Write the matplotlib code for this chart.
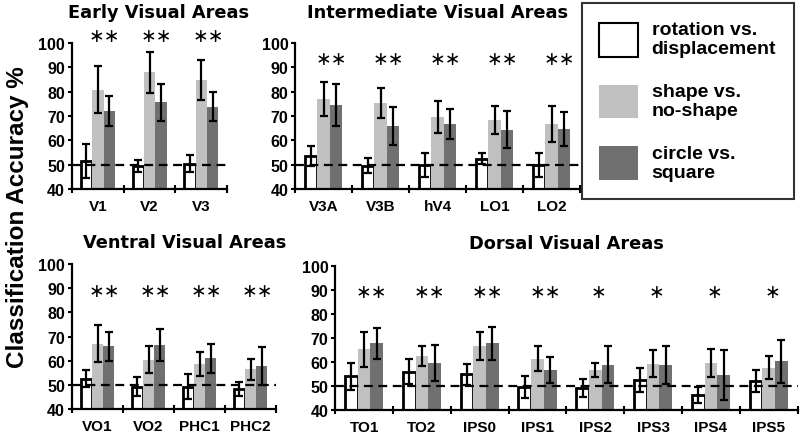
import matplotlib
matplotlib.use("Agg")
import matplotlib.pyplot as plt
from matplotlib.patches import Patch

# ---- data ----
early_areas = ["V1", "V2", "V3"]
early_rot = [51.5, 49.6, 50.5]
early_rot_err = [7.0, 2.5, 3.4]
early_shape = [80.8, 88.0, 84.8]
early_shape_err = [9.6, 8.4, 8.2]
early_circ = [72.2, 75.6, 73.8]
early_circ_err = [6.2, 7.5, 5.9]
early_stars = ["**", "**", "**"]

inter_areas = ["V3A", "V3B", "hV4", "LO1", "LO2"]
inter_rot = [53.5, 49.6, 50.0, 52.5, 49.8]
inter_rot_err = [4.0, 3.0, 5.0, 2.4, 5.0]
inter_shape = [77.0, 75.3, 69.5, 68.5, 66.8]
inter_shape_err = [6.8, 6.2, 6.6, 5.7, 7.4]
inter_circ = [74.5, 66.0, 66.8, 64.4, 64.8]
inter_circ_err = [8.5, 7.8, 6.2, 7.5, 7.0]
inter_stars = ["**", "**", "**", "**", "**"]

ventral_areas = ["VO1", "VO2", "PHC1", "PHC2"]
ventral_rot = [52.6, 49.2, 49.3, 48.3]
ventral_rot_err = [3.5, 4.0, 5.2, 2.8]
ventral_shape = [67.0, 60.4, 58.6, 56.5]
ventral_shape_err = [7.6, 5.7, 5.0, 4.4]
ventral_circ = [66.0, 66.5, 61.0, 57.8]
ventral_circ_err = [6.0, 6.5, 6.1, 8.0]
ventral_stars = ["**", "**", "**", "**"]

dorsal_areas = ["TO1", "TO2", "IPS0", "IPS1", "IPS2", "IPS3", "IPS4", "IPS5"]
dorsal_rot = [54.0, 56.0, 55.0, 49.5, 49.2, 52.6, 46.2, 52.0]
dorsal_rot_err = [5.5, 5.2, 4.4, 4.5, 3.8, 4.9, 3.4, 4.5]
dorsal_shape = [65.3, 62.5, 66.8, 61.3, 56.8, 59.3, 59.6, 57.6]
dorsal_shape_err = [7.2, 4.0, 5.9, 5.2, 2.9, 5.7, 6.0, 4.8]
dorsal_circ = [67.8, 59.7, 67.8, 56.8, 58.8, 58.8, 54.6, 60.3]
dorsal_circ_err = [6.6, 7.5, 7.0, 5.4, 7.7, 8.1, 10.3, 9.0]
dorsal_stars = ["**", "**", "**", "**", "*", "*", "*", "*"]

chance = 50
light = "#c0c0c0"
dark = "#707070"
tickfont = "Liberation Sans"
titlefont = "DejaVu Sans"


def panel(rect, title, areas, rot, rot_e, shp, shp_e, cir, cir_e, stars, star_y,
          tpad, tx=0.5):
    ax = fig.add_axes(rect)
    x = list(range(len(areas)))
    w = 0.22
    ek = dict(ecolor="black", elinewidth=1.6, capsize=3, capthick=1.6)
    ax.bar([i - w for i in x], rot, w, yerr=rot_e, color="white",
           edgecolor="black", linewidth=2, error_kw=ek, zorder=2)
    ax.bar(x, shp, w, yerr=shp_e, color=light, error_kw=ek, zorder=2)
    ax.bar([i + w for i in x], cir, w, yerr=cir_e, color=dark, error_kw=ek, zorder=2)
    ax.axhline(chance, color="black", linestyle=(0, (4, 2.5)), linewidth=1.6, zorder=3)
    for i, s in zip(x, stars):
        off = 0.13 if len(s) == 2 else 0.06
        ax.text(i + off, star_y, "\u2217" * len(s), ha="center",
                va="center", fontsize=13.5, family="DejaVu Sans", clip_on=False)
    ax.set_xlim(-0.5, len(areas) - 0.5)
    ax.set_ylim(40, 100)
    ax.set_yticks(range(40, 101, 10))
    ax.set_xticks(x)
    ax.set_xticklabels(areas, fontsize=11, fontweight="bold", family=tickfont)
    ax.set_xticks([i - 0.5 for i in range(len(areas) + 1)], minor=True)
    ax.tick_params(axis="x", which="major", length=0, pad=7)
    ax.tick_params(axis="x", which="minor", length=6, width=1.5, direction="inout")
    ax.tick_params(axis="y", length=3, width=1.5, pad=2)
    for lab in ax.get_yticklabels():
        lab.set_fontsize(11.5)
        lab.set_fontweight("bold")
        lab.set_family(tickfont)
    for sp in ["top", "right"]:
        ax.spines[sp].set_visible(False)
    for sp in ["left", "bottom"]:
        ax.spines[sp].set_linewidth(1.6)
    ax.set_title(title, fontsize=12.8, fontweight="bold", family=titlefont,
                 pad=tpad, x=tx)
    return ax


fig = plt.figure(figsize=(8, 4.35), dpi=100)

panel([0.09, 0.563, 0.194, 0.336], "Early Visual Areas", early_areas,
      early_rot, early_rot_err, early_shape, early_shape_err,
      early_circ, early_circ_err, early_stars, 103, 19, 0.555)
panel([0.369, 0.563, 0.356, 0.336], "Intermediate Visual Areas", inter_areas,
      inter_rot, inter_rot_err, inter_shape, inter_shape_err,
      inter_circ, inter_circ_err, inter_stars, 93.5, 19, 0.5)
panel([0.09, 0.0575, 0.255, 0.333], "Ventral Visual Areas", ventral_areas,
      ventral_rot, ventral_rot_err, ventral_shape, ventral_shape_err,
      ventral_circ, ventral_circ_err, ventral_stars, 89, 12, 0.554)
panel([0.419, 0.055, 0.578, 0.331], "Dorsal Visual Areas", dorsal_areas,
      dorsal_rot, dorsal_rot_err, dorsal_shape, dorsal_shape_err,
      dorsal_circ, dorsal_circ_err, dorsal_stars, 89.5, 13)

fig.text(0.022, 0.5, "Classification Accuracy %", rotation=90, ha="center",
         va="center", fontsize=17.5, fontweight="bold", family=tickfont)

handles = [Patch(facecolor="white", edgecolor="black", linewidth=1.5),
           Patch(facecolor=light), Patch(facecolor=dark)]
labels = ["rotation vs.\ndisplacement", "shape vs.\nno-shape", "circle vs.\nsquare"]
leg = fig.legend(handles, labels, loc="upper right", bbox_to_anchor=(0.992, 0.99),
                 frameon=True, fancybox=False, edgecolor="black",
                 handlelength=2.0, handleheight=2.3, labelspacing=1.3,
                 handletextpad=0.7, borderpad=0.9, borderaxespad=0,
                 prop={"family": tickfont, "weight": "bold", "size": 14})
leg.get_frame().set_linewidth(1.5)

fig.savefig("out.png", dpi=100)
